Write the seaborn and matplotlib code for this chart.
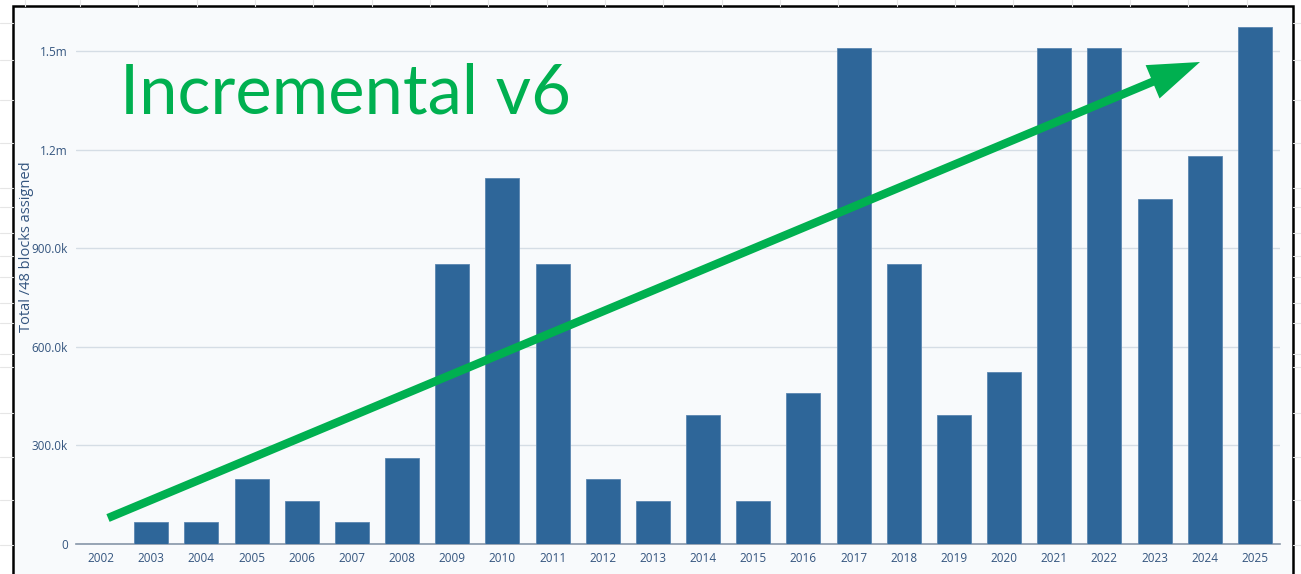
import matplotlib
matplotlib.use("Agg")
import matplotlib.pyplot as plt
import matplotlib.patches as mpatches
import matplotlib.ticker as mticker
import seaborn as sns
import pandas as pd

# /48 blocks assigned per year
years = [str(y) for y in range(2002, 2026)]
blocks = [0, 65536, 65536, 196608, 131072, 65536, 262144, 851968, 1114112,
          851968, 196608, 131072, 393216, 131072, 458752, 1507328, 851968,
          393216, 524288, 1507328, 1507328, 1048576, 1179648, 1572864]
y_ticks = [0, 300000, 600000, 900000, 1200000, 1500000]
y_tick_labels = ["0", "300.0k", "600.0k", "900.0k", "1.2m", "1.5m"]

df = pd.DataFrame({"year": years, "blocks": blocks})

sns.set_style("white")
plt.rcParams["font.family"] = ["Open Sans", "DejaVu Sans"]

W, H = 1301, 574
fig = plt.figure(figsize=(W / 100, H / 100), dpi=100)
fig.patch.set_facecolor("white")

def px(x, y):
    return (x / W, 1 - y / H)

# faint spreadsheet grid outside the screenshot
for yy in [23, 60, 100, 143, 188, 207, 233, 256, 277, 303, 323, 354, 367, 413, 457, 500, 545]:
    fig.add_artist(plt.Line2D([0, 13 / W], [1 - yy / H] * 2, color="#e6e6e6", lw=0.8))
    fig.add_artist(plt.Line2D([1293 / W, 1], [1 - yy / H] * 2, color="#e6e6e6", lw=0.8))
for xx in [25, 80, 138, 197, 255, 313, 372, 430, 488, 547, 605, 663, 722, 780, 838, 897, 955, 1013, 1072, 1130, 1188, 1247]:
    fig.add_artist(plt.Line2D([xx / W] * 2, [1 - 6 / H, 1], color="#e6e6e6", lw=0.8))

# screenshot panel with black frame
panel = mpatches.Rectangle(px(13, 600), 1280 / W, 594 / H, transform=fig.transFigure,
                           facecolor="#f8fafc", edgecolor="black", lw=1.8, zorder=0)
fig.add_artist(panel)

ax = fig.add_axes([76 / W, 1 - 544 / H, (1280 - 76) / W, (544 - 20) / H])
ax.set_facecolor("#f8fafc")

sns.barplot(data=df, x="year", y="blocks", color="#2e6699", width=0.68,
            edgecolor="#5b86b0", linewidth=0.6, saturation=1, ax=ax, zorder=3)

ax.set_xlim(-0.5, len(years) - 0.5)
ax.set_ylim(0, 1594000)
ax.set_yticks(y_ticks)
ax.set_yticklabels(y_tick_labels)
ax.yaxis.grid(True, color="#d5dde5", lw=1, zorder=0)
ax.set_axisbelow(True)

for side in ["top", "right", "left"]:
    ax.spines[side].set_visible(False)
ax.spines["bottom"].set_color("#8796a8")
ax.spines["bottom"].set_linewidth(1.2)

ax.xaxis.set_minor_locator(mticker.FixedLocator([i - 0.5 for i in range(len(years) + 1)]))
ax.tick_params(axis="x", which="major", length=0, pad=6, labelsize=8.5, labelcolor="#34557f")
ax.tick_params(axis="x", which="minor", length=4, width=1, color="#8796a8", direction="out")
ax.tick_params(axis="y", length=0, pad=6, labelsize=8.5, labelcolor="#34557f")

ax.set_xlabel("")
ax.set_ylabel("Total /48 blocks assigned", fontsize=10.5, color="#34557f")
ax.yaxis.set_label_coords((34 - 76) / 1204, (544 - 247) / 524)

# overlay annotation
fig.text(120 / W, 1 - 113 / H, "Incremental v6", color="#00b050", fontsize=49.5,
         family=["Lato", "DejaVu Sans"], ha="left", va="baseline")

arrow = mpatches.FancyArrowPatch(px(108, 518), px(1200, 62), transform=fig.transFigure,
                                 arrowstyle=mpatches.ArrowStyle("simple", head_length=3.7,
                                                                head_width=2.6, tail_width=0.6),
                                 mutation_scale=10, color="#00b050", lw=0,
                                 shrinkA=0, shrinkB=0, zorder=10)
fig.add_artist(arrow)

fig.savefig("out.png", dpi=100)
